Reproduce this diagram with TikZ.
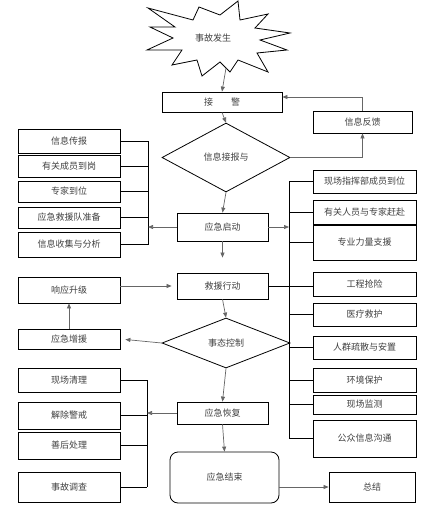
\documentclass[tikz,border=0pt]{standalone}
\usepackage{fontspec}
\newfontfamily\cjk{Noto Sans CJK SC}
\usetikzlibrary{shapes.geometric,arrows.meta}

\begin{document}
\begin{tikzpicture}[x=1pt,y=-1pt,
	box/.style 2 args={draw=black,line width=0.8pt,minimum width=#1,minimum height=#2},
	dia/.style 2 args={draw=black,diamond,line width=0.8pt,minimum width=#1,minimum height=#2},
	link/.style={draw=black!60,line width=0.7pt},
	arr/.style={link,-{Triangle[length=5pt,width=4pt]}},
	bus/.style={draw=black,line width=0.8pt}]
		\tikzstyle{every node}+=[inner sep=0pt,font=\cjk\fontsize{9}{10}\selectfont,text=black!75]
		\useasboundingbox (0,0) rectangle (439,514);
		% star
		\draw [black,line width=0.8pt] (148,8) -- (193,20) -- (199,7) -- (220,15) -- (238,1) -- (240,20)
			-- (268,14) -- (255,28) -- (290,33) -- (260,40) -- (287,50) -- (257,53) -- (268,72)
			-- (238,60) -- (230,72) -- (220,62) -- (202,76) -- (197,60) -- (172,65) -- (182,50)
			-- (147,50) -- (173,38) -- (150,27) -- (175,27) -- cycle;
		\node (acc) at (213,38) {事故发生};
		\coordinate (acc-s) at (226,68);
		% middle column
		\node [box={120pt}{20pt}] (jj) at (222,102) {接\hspace{18pt}警};
		\node [dia={128pt}{69pt}] (d1) at (226,157.5) {信息接报与};
		\node [box={91pt}{28pt}] (qd) at (222.5,227) {应急启动};
		\node [box={91pt}{26pt}] (jy) at (222.5,286) {救援行动};
		\node [dia={128pt}{50pt}] (d2) at (226,343) {事态控制};
		\node [box={91pt}{22pt}] (hf) at (222.5,413) {应急恢复};
		\node [box={109pt}{51pt},rounded corners=8pt] (js) at (224.5,477.5) {应急结束};
		\node [box={99pt}{22pt}] (fk) at (362.5,122) {信息反馈};
		\node [box={86pt}{30pt}] (zj) at (372,487) {总结};
		% left column
		\node [box={102pt}{24pt}] (l1) at (69,141) {信息传报};
		\node [box={102pt}{22pt}] (l2) at (69,166) {有关成员到岗};
		\node [box={102pt}{21pt}] (l3) at (69,191.5) {专家到位};
		\node [box={102pt}{21pt}] (l4) at (69,217.5) {应急救援队准备};
		\node [box={102pt}{25pt}] (l5) at (69,244.5) {信息收集与分析};
		\node [box={102pt}{26pt}] (sj) at (69,290) {响应升级};
		\node [box={102pt}{20pt}] (zy) at (69,339) {应急增援};
		\node [box={102pt}{24pt}] (m1) at (69,380) {现场清理};
		\node [box={102pt}{27pt}] (m2) at (69,415.5) {解除警戒};
		\node [box={102pt}{27pt}] (m3) at (69,445.5) {善后处理};
		\node [box={102pt}{30pt}] (m4) at (69,487) {事故调查};
		% right column
		\node [box={103pt}{23pt}] (r1) at (364.5,181.5) {现场指挥部成员到位};
		\node [box={103pt}{24pt}] (r2) at (364.5,212) {有关人员与专家赶赴};
		\node [box={103pt}{35pt}] (r3) at (364.5,242.5) {专业力量支援};
		\node [box={103pt}{24pt}] (r4) at (364.5,284) {工程抢险};
		\node [box={103pt}{23pt}] (r5) at (364.5,314.5) {医疗救护};
		\node [box={103pt}{23pt}] (r6) at (364.5,347.5) {人群疏散与安置};
		\node [box={103pt}{24pt}] (r7) at (364.5,380) {环境保护};
		\node [box={103pt}{19pt}] (r8) at (364.5,404.5) {现场监测};
		\node [box={103pt}{37pt}] (r9) at (364.5,438.5) {公众信息沟通};
		% buses
		\coordinate (lbus) at (148,0);
		\coordinate (mbus) at (147,0);
		\coordinate (rbus) at (289,0);
		% main flow
		\draw [arr] (acc-s) -- (jj.north);
		\draw [arr] (jj.south) -- (d1.north);
		\draw [arr] (d1.south) -- (qd.north);
		\draw [arr,shorten >=15pt] (qd.south) -- (jy.north);
		\draw [arr] (jy.south) -- (d2.north);
		\draw [arr] (d2.south) -- (hf.north);
		\draw [arr] (hf.south) -- (js.north);
		\draw [arr] (js.east |- zj.west) -- (zj.west);
		% feedback
		\draw [arr] (d1.east) -| (fk.south);
		\draw [arr] (fk.north) |- ([yshift=5pt]jj.east);
		% escalation
		\draw [arr,shorten >=5pt] (d2.west) -- (zy.east);
		\draw [arr] (zy.north) -- (sj.south);
		\draw [arr,shorten >=5pt] (sj.east |- jy.west) -- (jy.west);
		% left bus 1
		\draw [bus] (l1.east -| lbus) -- (l5.east -| lbus);
		\foreach \b in {l1,l2,l3,l4,l5}
			\draw [bus] (\b.east) -- (\b.east -| lbus);
		\draw [arr] (qd.west) -- (qd.west -| lbus);
		% right bus
		\draw [bus] (r1.west -| rbus) -- (r9.west -| rbus);
		\foreach \b in {r1,r2,r3,r5,r6,r7,r8,r9}
			\draw [bus] (\b.west -| rbus) -- (\b.west);
		\draw [arr] (qd.east) -- (qd.east -| rbus);
		\draw [bus] (jy.east) -- (jy.east -| r4.west);
		% left bus 2
		\draw [bus] (m1.east -| mbus) -- (m4.east -| mbus);
		\foreach \b in {m1,m2,m3,m4}
			\draw [bus] (\b.east) -- (\b.east -| mbus);
		\draw [arr] (hf.west) -- (hf.west -| mbus);
	\end{tikzpicture}
\end{document}
